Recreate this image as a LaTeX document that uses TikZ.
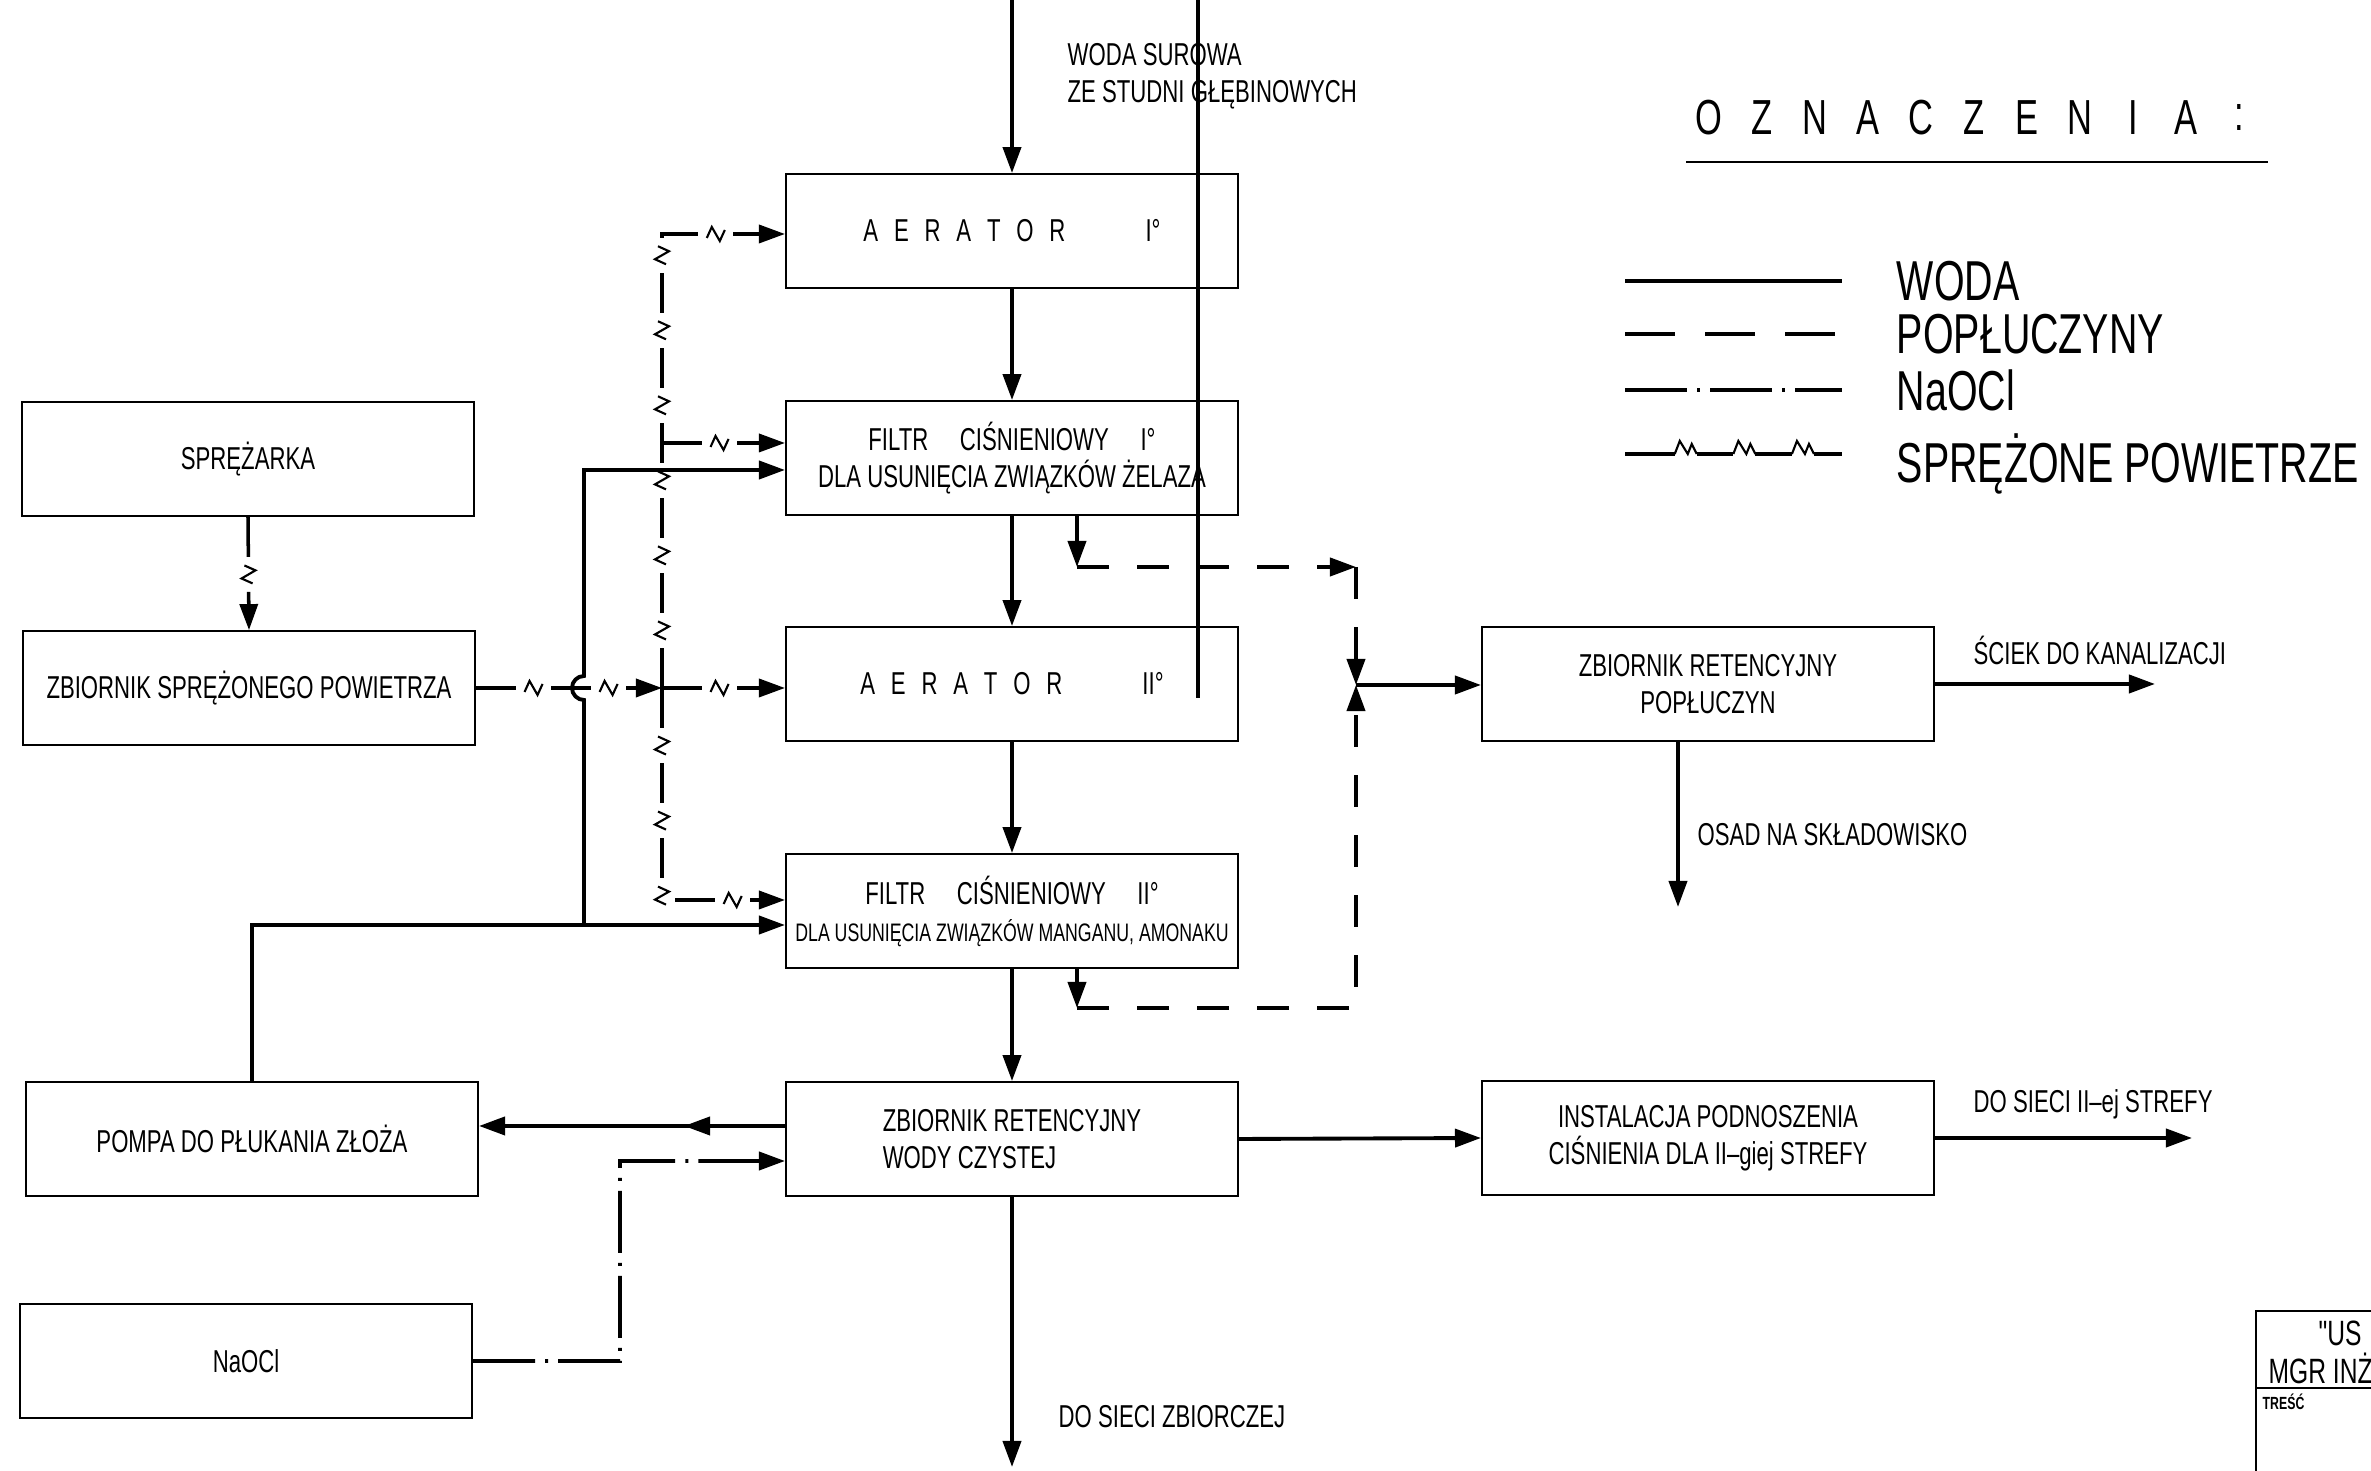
\documentclass[tikz,border=0pt]{standalone}
\usepackage{fontspec}
\newfontfamily\cadfont[FakeStretch=0.7]{Liberation Sans}
\usepackage{tikz}
\usetikzlibrary{arrows.meta, positioning, decorations.markings}

\newcommand\aerator[1]{A\enspace E\enspace R\enspace A\enspace T\enspace O\enspace R\hspace{0.8cm}#1}
\newcommand\zigmark{\fill[white] (-0.11cm,-0.05cm) rectangle (0.11cm,0.16cm);
  \draw[-, line width=0.6pt, solid] (-0.11cm,0cm) -- (-0.06cm,0.13cm) -- (0.02cm,0cm) -- (0.06cm,0.1cm) -- (0.11cm,0cm);}
\newcommand\airmark{\draw[-, line width=0.6pt, solid] (-0.09cm,-0.04cm) -- (-0.04cm,0.07cm) -- (0.04cm,-0.07cm) -- (0.09cm,0.04cm);}

\tikzset{
  unit/.style={draw, line width=0.5pt, minimum width=4.52cm, minimum height=1.14cm, align=center,
    font=\cadfont\fontsize{9}{10.5}\selectfont},
  lbl/.style={anchor=west, inner sep=0pt, align=left, font=\cadfont\fontsize{9}{10.5}\selectfont},
  key/.style={anchor=west, inner sep=0pt, font=\cadfont\fontsize{16}{18}\selectfont},
  water/.style={line width=1.1pt},
  wash/.style={line width=1.1pt, dash pattern=on 0.32cm off 0.28cm},
  chlor/.style={line width=1.1pt, dash pattern=on 0.62cm off 0.1cm on 0.03cm off 0.1cm},
  air/.style={line width=1pt, dash pattern=on 0.4cm off 0.35cm,
    postaction={decorate, decoration={markings,
      mark=between positions 0.575cm and -0.25cm step 0.75cm with {\airmark}}}},
  airkey/.style={line width=1pt,
    postaction={decorate, decoration={markings,
      mark=at position 0.28 with {\zigmark}, mark=at position 0.55 with {\zigmark},
      mark=at position 0.82 with {\zigmark}}}},
  midtip/.style={postaction={decorate, decoration={markings, mark=at position #1 with {\arrow{>}}}}}
}

\begin{document}
\begin{tikzpicture}[x=0.01cm, y=-0.01cm, >={Triangle[length=0.26cm, width=0.18cm]}]
  \useasboundingbox (0,0) rectangle (2371,1471);

  \node[unit] (aer1) at (1012,231) {\aerator{I°}};
  \node[unit] (fil1) at (1012,458) {FILTR\quad CIŚNIENIOWY\quad I°\\DLA USUNIĘCIA ZWIĄZKÓW ŻELAZA};
  \node[unit] (aer2) at (1012,684) {\aerator{II°}};
  \node[unit, inner xsep=1pt] (fil2) at (1012,911) {FILTR\quad CIŚNIENIOWY\quad II°\\{\fontsize{7.2}{9}\selectfont DLA USUNIĘCIA ZWIĄZKÓW MANGANU, AMONAKU}};
  \node[unit, align=left] (zbwc) at (1012,1139) {ZBIORNIK RETENCYJNY\\WODY CZYSTEJ};
  \node[unit] (sprez) at (248,459) {SPRĘŻARKA};
  \node[unit] (zbsp) at (249,688) {ZBIORNIK SPRĘŻONEGO POWIETRZA};
  \node[unit] (pompa) at (252,1139) {POMPA DO PŁUKANIA ZŁOŻA};
  \node[unit] (naocl) at (246,1361) {NaOCl};
  \node[unit] (zbpop) at (1708,684) {ZBIORNIK RETENCYJNY\\POPŁUCZYN};
  \node[unit] (inst) at (1708,1138) {INSTALACJA PODNOSZENIA\\CIŚNIENIA DLA II–giej STREFY};

  \coordinate (src) at (1012,0);
  \coordinate (sink) at (1012,1467);
  \coordinate (strefa) at (2192,1138);
  \coordinate (sciek) at (2155,684);
  \coordinate (osad) at (1678,907);
  \draw[line width=1.1pt] (1198,0) -- (1198,698);
  \draw[water,->] (src) -- (aer1.north);
  \draw[water,->] (aer1.south) -- (fil1.north);
  \draw[water,->] (fil1.south) -- (aer2.north);
  \draw[water,->] (aer2.south) -- (fil2.north);
  \draw[water,->] (fil2.south) -- (zbwc.north);
  \draw[water,->] (zbwc.south) -- (sink);
  \draw[water,->] (zbwc.east) -- (inst.west);
  \draw[water,->] (inst.east) -- (strefa);
  \draw[water,->] (zbpop.east) -- (sciek);
  \draw[water,->] ([xshift=-0.3cm]zbpop.south) -- (osad);
  \draw[water,->,midtip=0.33] ([yshift=0.13cm]zbwc.west) -- ([yshift=0.13cm]pompa.east);

  \coordinate (airnode) at (662,688);
  \coordinate (fil1air) at ([yshift=0.15cm]fil1.west);
  \draw[air,->] (sprez.south) -- (zbsp.north);
  \draw[air,->] (zbsp.east) -- (airnode);
  \draw[air,->] (airnode) -- (airnode -| aer2.west);
  \draw[air,->] (airnode) |- ([yshift=-0.03cm]aer1.west);
  \draw[air,->] (airnode) |- ([yshift=0.11cm]fil2.west);
  \draw[air,->] (airnode |- fil1air) -- (fil1air);

  \coordinate (fil2in) at ([yshift=-0.14cm]fil2.west);
  \coordinate (fil1in) at ([yshift=-0.12cm]fil1.west);
  \coordinate (bwsplit) at (584,925);
  \coordinate (hopin) at (584,700);
  \draw[water,->] (pompa.north) |- (fil2in);
  \draw[water,->] (bwsplit) -- (hopin) arc[start angle=270, end angle=90, radius=0.12cm] |- (fil1in);

  \coordinate (clin) at ([yshift=-0.22cm]zbwc.west);
  \coordinate (clbend) at (620,1161);
  \draw[chlor,->] (naocl.east) -| (clbend) -- (clin);

  \coordinate (wjoin) at (1356,685);
  \coordinate (w1) at (1077,567);
  \coordinate (w2) at (1077,1008);
  \draw[water,->] (w1 |- fil1.south) -- (w1);
  \draw[wash,->] (w1) -- (w1 -| wjoin);
  \draw[wash,->] (w1 -| wjoin) -- (wjoin);
  \draw[water,->] (w2 |- fil2.south) -- (w2);
  \draw[wash,->] (w2) -| (wjoin);
  \draw[water,->] (wjoin) -- (wjoin -| zbpop.west);

  \node[lbl] (lsurowa) at (1067,76) {WODA SUROWA\\ZE STUDNI GŁĘBINOWYCH};
  \node[lbl] (lsciek) at (1973,650) {ŚCIEK DO KANALIZACJI};
  \node[lbl] (losad) at (1697,835) {OSAD NA SKŁADOWISKO};
  \node[lbl] (lstrefa) at (1973,1104) {DO SIECI II–ej STREFY};
  \node[lbl] (lsiec) at (1058,1417) {DO SIECI ZBIORCZEJ};

  \foreach \ch [count=\i] in {O,Z,N,A,C,Z,E,N,I,A,:}
    \node[font=\cadfont\fontsize{14}{16}\selectfont, inner sep=0pt] (oz\i) at ({1656+53*\i},118) {\ch};
  \draw[line width=0.7pt] (1686,162) -- (2268,162);
  \draw[water] (1625,281) -- (1842,281) node[key, right=0.53cm] (kwoda) {WODA};
  \draw[wash, dash pattern=on 0.5cm off 0.3cm] (1625,334) -- (1842,334) node[key, right=0.53cm] (kwash) {POPŁUCZYNY};
  \draw[chlor] (1625,390) -- (1842,390) node[key, right=0.53cm] (kcl) {NaOCl};
  \draw[airkey] (1625,454) -- (1842,454) node[key, right=0.53cm, yshift=-0.1cm] (kair) {SPRĘŻONE POWIETRZE};

  \draw[line width=0.6pt] (2256,1471) -- (2256,1311) -- (2371,1311);
  \draw[line width=0.6pt] (2256,1388) -- (2371,1388);
  \node[lbl, font=\cadfont\fontsize{10}{12}\selectfont] (tbus) at (2318,1333) {"US};
  \node[lbl, font=\cadfont\fontsize{10}{12}\selectfont] (tbmgr) at (2268,1368) {MGR INŻ};
  \node[lbl, font=\cadfont\bfseries\fontsize{5}{6}\selectfont] (tbtresc) at (2262,1402) {TREŚĆ};
\end{tikzpicture}
\end{document}
